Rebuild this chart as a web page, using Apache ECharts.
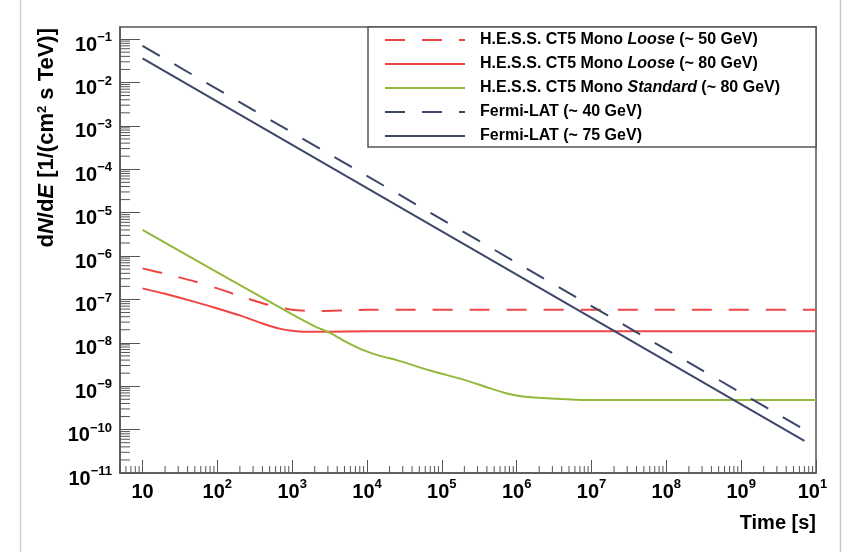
<!DOCTYPE html>
<html>
<head>
<meta charset="utf-8">
<script src="https://cdn.jsdelivr.net/npm/echarts@6/dist/echarts.min.js"></script>
<style>
  html, body { margin: 0; padding: 0; background: #fff; }
  #main { width: 844px; height: 552px; }
</style>
</head>
<body>
<div id="main"></div>
<script>
var chart = echarts.init(document.getElementById('main'));

// axis ranges
var xMin = 5, xMax = 1e10;
var yMin = 1e-11, yMax = 0.19;

// curves, [time s, dN/dE]
var hessLoose50 = [[10, 5.2e-7], [20, 3.9e-7], [50, 2.6e-7], [100, 1.8e-7], [200, 1.2e-7], [400, 8.2e-8],
  [700, 6.4e-8], [1000, 5.8e-8], [1500, 5.5e-8], [2500, 5.4e-8], [5000, 5.6e-8], [1e4, 5.8e-8], [1e10, 5.8e-8]];
var hessLoose80 = [[10, 1.8e-7], [20, 1.35e-7], [50, 8.8e-8], [100, 6.2e-8], [200, 4.3e-8], [400, 2.8e-8],
  [700, 2.1e-8], [1000, 1.9e-8], [1500, 1.8e-8], [3000, 1.8e-8], [1e4, 1.85e-8], [1e10, 1.85e-8]];
var hessStd80 = [[10, 4.0e-6], [100, 4.2e-7], [1000, 4.5e-8], [2000, 2.4e-8], [3200, 1.7e-8], [5000, 1.1e-8],
  [8900, 6.8e-9], [1.5e4, 5.0e-9], [2.5e4, 4.0e-9], [7e4, 2.3e-9], [2e5, 1.4e-9], [4e5, 9.5e-10],
  [7e5, 7.0e-10], [1.2e6, 5.8e-10], [2e6, 5.4e-10], [4e6, 5.1e-10], [1e7, 4.8e-10], [1e10, 4.8e-10]];
var fermi40 = [[10, 7.0e-2], [7.8e9, 9.0e-11]];
var fermi75 = [[10, 3.6e-2], [7e9, 5.5e-11]];

var names = [
  'H.E.S.S. CT5 Mono {i|Loose} (~ 50 GeV)',
  'H.E.S.S. CT5 Mono {i|Loose} (~ 80 GeV)',
  'H.E.S.S. CT5 Mono {i|Standard} (~ 80 GeV)',
  'Fermi-LAT (~ 40 GeV)',
  'Fermi-LAT (~ 75 GeV)'
];

var red = '#ef4444', green = '#93b83a', navy = '#3c4767', frame = '#555';
var font = 'Liberation Sans';

// log minor ticks at 2..9 x 10^n
function minorTicks(lo, hi) {
  var out = [];
  for (var e = Math.floor(Math.log10(lo)); e <= Math.ceil(Math.log10(hi)); e++) {
    for (var m = 2; m <= 9; m++) {
      var v = m * Math.pow(10, e);
      if (v >= lo && v <= hi) out.push(v);
    }
  }
  return out;
}
var xMinor = minorTicks(xMin, xMax);
var yMinor = minorTicks(yMin, yMax);

function xLabel(v) {
  var n = Math.round(Math.log10(v));
  if (n === 1) return '{b|10}';
  return '{b|10}{s|' + n + '}';
}
function yLabel(v) {
  var n = Math.round(Math.log10(v));
  return '{b|10}{s|\u2212' + (-n) + '}';
}

var labelRich = {
  b: { fontSize: 20, fontWeight: 'bold', fontFamily: font, color: '#000', lineHeight: 24, verticalAlign: 'bottom' },
  s: { fontSize: 13, fontWeight: 'bold', fontFamily: font, color: '#000', lineHeight: 14, verticalAlign: 'top' }
};

function lineSeries(name, data, color, dashed) {
  return {
    name: name,
    type: 'line',
    data: data,
    symbol: 'none',
    smooth: 0.2,
    lineStyle: { color: color, width: 2, type: dashed ? [20, 17] : 'solid' },
    itemStyle: { color: color },
    z: 3
  };
}

option = {
  animation: false,
  backgroundColor: '#fff',
  grid: {
    left: 120, right: 28, top: 27, bottom: 79,
    show: true, borderColor: frame, borderWidth: 1.5
  },
  legend: {
    orient: 'vertical',
    left: 384, top: 31,
    padding: 0,
    itemWidth: 80, itemHeight: 14, itemGap: 6,
    itemStyle: { opacity: 0 },
    data: names,
    textStyle: {
      fontSize: 16, fontWeight: 'bold', fontFamily: font, color: '#000', lineHeight: 18, padding: [0, 0, 0, 10],
      rich: { i: { fontSize: 16, fontStyle: 'italic', fontFamily: font, color: '#000', lineHeight: 18 } }
    }
  },
  xAxis: {
    type: 'log',
    min: xMin, max: xMax,
    splitNumber: 10,
    name: 'Time [s]',
    nameLocation: 'end',
    nameGap: 0,
    nameTextStyle: {
      fontSize: 20, fontWeight: 'bold', fontFamily: font, color: '#000',
      align: 'right', verticalAlign: 'top', padding: [40, 0, 0, 0]
    },
    axisLine: { show: true, lineStyle: { color: frame, width: 1.5 } },
    axisTick: { show: true, inside: true, length: 13, lineStyle: { color: frame } },
    splitLine: { show: false },
    axisLabel: {
      margin: 5, showMinLabel: false,
      formatter: xLabel,
      rich: labelRich
    }
  },
  yAxis: {
    type: 'log',
    min: yMin, max: yMax,
    interval: 1,
    axisLine: { show: true, lineStyle: { color: frame, width: 1.5 } },
    axisTick: { show: true, inside: true, length: 20, lineStyle: { color: frame } },
    splitLine: { show: false },
    axisLabel: {
      margin: 8, showMaxLabel: false,
      padding: [8, 0, 0, 0],
      formatter: yLabel,
      rich: labelRich
    }
  },
  graphic: [
    {
      type: 'text', x: 47, y: 28, rotation: Math.PI / 2,
      style: {
        text: 'd{i|N}/d{i|E} [1/(cm{s|2} s TeV)]',
        align: 'right', verticalAlign: 'middle',
        fontSize: 22, fontWeight: 'bold', fontFamily: font, fill: '#000',
        rich: {
          i: { fontSize: 22, fontWeight: 'bold', fontStyle: 'italic', fontFamily: font },
          s: { fontSize: 13, fontWeight: 'bold', fontFamily: font, verticalAlign: 'top', lineHeight: 13 }
        }
      }
    },
    {
      type: 'rect', shape: { x: 368, y: 27, width: 448, height: 120 },
      style: { fill: '#fff', stroke: frame, lineWidth: 1.5 }, z: 1
    },
    // the original canvas ends here, cutting the last x label
    { type: 'rect', shape: { x: 827, y: 475, width: 17, height: 77 }, style: { fill: '#fff' }, z: 100 },
    { type: 'rect', shape: { x: 841, y: 0, width: 3, height: 552 }, style: { fill: '#fff' }, z: 100 },
    { type: 'line', shape: { x1: 840.5, y1: 0, x2: 840.5, y2: 552 }, style: { stroke: '#c8c8c8', lineWidth: 1.5 }, z: 101 },
    { type: 'line', shape: { x1: 20.5, y1: 0, x2: 20.5, y2: 552 }, style: { stroke: '#d0d0d0', lineWidth: 1.5 }, z: 101 }
  ],
  series: [
    lineSeries(names[0], hessLoose50, red, true),
    lineSeries(names[1], hessLoose80, red, false),
    lineSeries(names[2], hessStd80, green, false),
    lineSeries(names[3], fermi40, navy, true),
    lineSeries(names[4], fermi75, navy, false),
    {
      type: 'custom', silent: true, z: 4,
      data: xMinor.map(function (v) { return [v, yMin]; }),
      renderItem: function (params, api) {
        var p = api.coord([api.value(0), yMin]);
        return { type: 'line', shape: { x1: p[0], y1: p[1], x2: p[0], y2: p[1] - 7 }, style: { stroke: frame, lineWidth: 1 } };
      }
    },
    {
      type: 'custom', silent: true, z: 4,
      data: yMinor.map(function (v) { return [xMin, v]; }),
      renderItem: function (params, api) {
        var p = api.coord([xMin, api.value(1)]);
        return { type: 'line', shape: { x1: p[0], y1: p[1], x2: p[0] + 10, y2: p[1] }, style: { stroke: frame, lineWidth: 1 } };
      }
    }
  ]
};

option && chart.setOption(option);
</script>
</body>
</html>
